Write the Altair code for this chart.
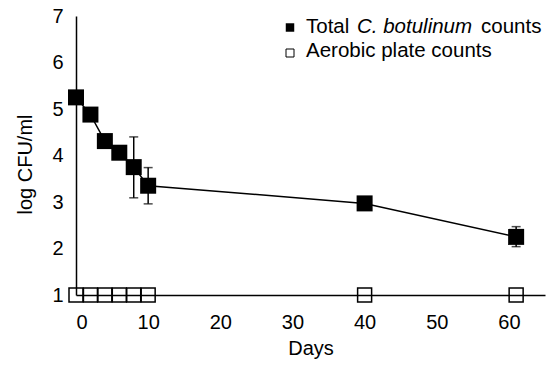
import altair as alt
import pandas as pd

# Data
days_cb = [0, 2, 4, 6, 8, 10, 40, 61]
log_cb = [5.25, 4.88, 4.31, 4.06, 3.75, 3.35, 2.97, 2.25]
err_days = [8, 10, 61]
err_low = [3.09, 2.96, 2.04]
err_high = [4.40, 3.74, 2.47]
days_apc = [0, 2, 4, 6, 8, 10, 40, 61]
log_apc = [1, 1, 1, 1, 1, 1, 1, 1]
x_ticks = [0, 10, 20, 30, 40, 50, 60]
y_ticks = [1, 2, 3, 4, 5, 6, 7]

FONT = "Liberation Sans"

cb = pd.DataFrame({"day": days_cb, "v": log_cb})
apc = pd.DataFrame({"day": days_apc, "v": log_apc})
err = pd.DataFrame({"day": err_days, "lo": err_low, "hi": err_high})

xscale = alt.Scale(domain=[0, 65], nice=False, zero=False)
yscale = alt.Scale(domain=[1, 7], nice=False, zero=False)

xaxis = alt.Axis(values=x_ticks, grid=False, ticks=False, tickSize=0,
                 domainColor="black", domainWidth=1.5,
                 labelFont=FONT, labelFontSize=20, labelColor="black",
                 labelBaseline="alphabetic", labelPadding=33,
                 title="Days", titleFont=FONT, titleFontSize=20,
                 titleFontWeight="normal", titleColor="black",
                 titleBaseline="alphabetic", titleY=59)
yaxis = alt.Axis(values=y_ticks, grid=False, ticks=False, tickSize=0,
                 domainColor="black", domainWidth=1.5,
                 labelFont=FONT, labelFontSize=20, labelColor="black",
                 labelPadding=13,
                 title="log CFU/ml", titleFont=FONT, titleFontSize=20,
                 titleFontWeight="normal", titleColor="black",
                 titleAngle=270, titleAlign="center", titleBaseline="middle",
                 titleX=-51, titleY=148)

x = alt.X("day:Q", scale=xscale, axis=xaxis)
y = alt.Y("v:Q", scale=yscale, axis=yaxis)

line = alt.Chart(cb).mark_line(color="black", strokeWidth=1.5).encode(x=x, y=y)

bars = alt.Chart(err).mark_rule(color="black", strokeWidth=1.5).encode(
    x=alt.X("day:Q", scale=xscale), y=alt.Y("lo:Q", scale=yscale), y2="hi:Q")
cap_lo = alt.Chart(err).mark_tick(color="black", orient="horizontal", size=9, thickness=1.5).encode(
    x=alt.X("day:Q", scale=xscale), y=alt.Y("lo:Q", scale=yscale))
cap_hi = alt.Chart(err).mark_tick(color="black", orient="horizontal", size=9, thickness=1.5).encode(
    x=alt.X("day:Q", scale=xscale), y=alt.Y("hi:Q", scale=yscale))

filled = alt.Chart(cb).mark_point(shape="square", filled=True, color="black",
                                  size=256, opacity=1).encode(x=x, y=y)
hollow = alt.Chart(apc).mark_point(shape="square", filled=False, color="black",
                                   strokeWidth=1.5, size=196, opacity=1).encode(x=x, y=y)

one = pd.DataFrame({"a": [0]})
leg_sq1 = alt.Chart(one).mark_point(shape="square", filled=True, color="black", size=72, opacity=1).encode(
    x=alt.value(214), y=alt.value(11.5))
leg_sq2 = alt.Chart(one).mark_point(shape="square", filled=False, color="black", strokeWidth=1,
                                    size=64, opacity=1).encode(x=alt.value(214), y=alt.value(37))

LFS = 20.5

def txt(s, xp, yp, style="normal"):
    return alt.Chart(one).mark_text(font=FONT, fontSize=LFS, fontStyle=style, color="black",
                                    align="left", baseline="alphabetic").encode(
        x=alt.value(xp), y=alt.value(yp), text=alt.value(s))

legend = [leg_sq1, leg_sq2,
          txt("Total", 230, 16.5),
          txt("C. botulinum", 281, 16.5, "italic"),
          txt("counts", 405, 16.5),
          txt("Aerobic plate counts", 230, 41)]

chart = alt.layer(line, bars, cap_lo, cap_hi, filled, hollow, *legend).properties(
    width=469, height=279,
    autosize=alt.AutoSizeParams(type="none"),
    padding={"left": 68, "top": 8, "right": 4, "bottom": 64},
).configure_view(stroke=None)

chart.save("out.html", embed_options={"renderer": "svg", "actions": False})
